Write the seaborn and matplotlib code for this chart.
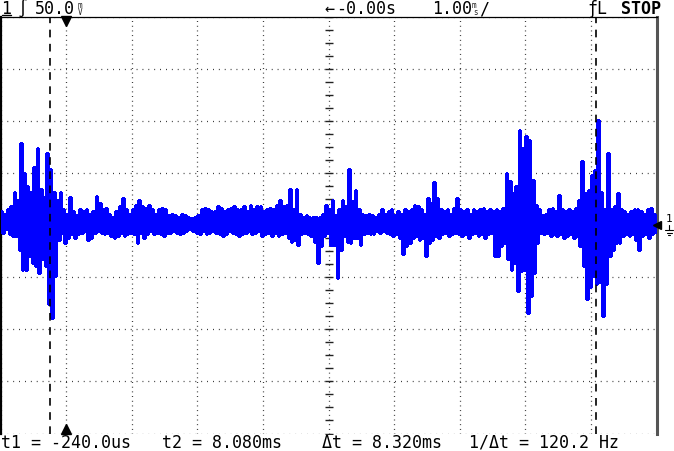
import numpy as np
import pandas as pd
import matplotlib
matplotlib.use("Agg")
import matplotlib.pyplot as plt
from matplotlib.lines import Line2D
import seaborn as sns

# scope settings
mv_per_div = 50.0      # channel 1, mV/div
ms_per_div = 1.0       # timebase, ms/div
t_left = -1.0          # ms at the left edge of the screen
column_ms = 0.05       # width of one peak-detect column

# peak-detect envelope of channel 1, one column per 0.05 ms (mV)
trace_hi = [
    13, 11, 15, 18, 32, 24, 79, 50, 37, 32, 56, 74, 35, 27, 69, 54, 32, 24, 32, 15,
    11, 27, 13, 10, 15, 13, 15, 11, 13, 28, 21, 15, 16, 11, 8, 13, 18, 26, 15, 11,
    15, 19, 24, 18, 16, 19, 15, 11, 15, 16, 15, 10, 11, 10, 8, 11, 10, 8, 7, 8,
    10, 15, 16, 15, 13, 13, 18, 16, 13, 15, 16, 18, 15, 15, 18, 13, 19, 15, 18, 18,
    13, 15, 16, 15, 19, 24, 18, 19, 35, 15, 35, 11, 8, 10, 8, 8, 8, 8, 11, 19,
    15, 24, 10, 15, 24, 18, 54, 23, 34, 15, 11, 10, 11, 10, 8, 11, 15, 11, 13, 15,
    10, 13, 11, 15, 13, 15, 19, 18, 15, 11, 26, 21, 41, 26, 15, 13, 15, 11, 16, 26,
    15, 13, 15, 11, 15, 13, 15, 16, 13, 15, 13, 15, 13, 16, 50, 42, 31, 37, 91, 74,
    85, 82, 43, 19, 15, 10, 11, 15, 16, 13, 29, 15, 13, 15, 13, 16, 24, 61, 31, 34,
    48, 53, 101, 32, 15, 69, 15, 18, 31, 15, 13, 11, 13, 15, 15, 13, 11, 15, 16, 11,
]
trace_lo = [
    -8, -4, -9, -11, -11, -24, -43, -43, -30, -36, -39, -46, -33, -39, -76, -89, -49, -14, -8, -17,
    -12, -9, -12, -9, -8, -6, -14, -12, -8, -6, -8, -9, -8, -11, -12, -11, -8, -11, -9, -8,
    -9, -17, -8, -12, -9, -6, -9, -8, -9, -11, -8, -8, -6, -8, -9, -8, -6, -4, -6, -8,
    -9, -6, -9, -8, -6, -8, -9, -11, -9, -6, -8, -9, -11, -9, -8, -6, -9, -8, -6, -11,
    -9, -8, -11, -8, -11, -9, -8, -12, -16, -14, -19, -9, -8, -9, -11, -16, -36, -20, -11, -8,
    -19, -19, -51, -24, -11, -16, -17, -12, -12, -19, -9, -8, -9, -9, -6, -8, -6, -8, -9, -11,
    -9, -12, -28, -20, -17, -12, -11, -14, -12, -30, -17, -14, -11, -12, -9, -8, -11, -9, -8, -9,
    -11, -9, -12, -9, -8, -11, -9, -12, -9, -8, -30, -30, -20, -17, -33, -43, -36, -63, -44, -43,
    -84, -68, -46, -17, -8, -9, -8, -11, -9, -11, -9, -12, -11, -9, -12, -11, -20, -39, -71, -59,
    -49, -57, -55, -87, -57, -30, -24, -17, -17, -11, -9, -11, -9, -14, -24, -11, -9, -12, -9, -8,
]

cursor_t1 = -0.240   # ms
cursor_t2 = 8.080    # ms
trigger_t = 0.0      # ms

W, H = 674, 452


def px(x, y):
    """pixel position on the screenshot -> figure fraction"""
    return x / W, 1 - y / H


# interleave the envelope into one zig-zag trace like the scope draws it
t_col = t_left + column_ms * np.arange(len(trace_hi))
trace = pd.DataFrame({
    "t": np.column_stack([t_col, t_col + column_ms / 2]).ravel(),
    "mv": np.column_stack([trace_hi, trace_lo]).ravel(),
})

sns.set_style("white")
plt.rcParams["font.family"] = ["DejaVu Sans Mono", "DejaVu Sans"]

fig = plt.figure(figsize=(W / 100, H / 100), dpi=100)
ax = fig.add_axes([0.5 / W, (H - 434.5) / H, 656 / W, 417 / H])

ax.set_xlim(t_left, t_left + 10 * ms_per_div)
ax.set_ylim(-4 * mv_per_div, 4 * mv_per_div)
ax.set_xticks(t_left + ms_per_div * np.arange(11))
ax.set_yticks(mv_per_div * np.arange(-4, 5))
ax.tick_params(length=0, labelbottom=False, labelleft=False)
ax.xaxis.grid(True, color="#222222", lw=0.9, ls=(0, (0.7, 3.05)))
ax.yaxis.grid(True, color="#222222", lw=0.9, ls=(0, (0.7, 4.0)))
ax.set_axisbelow(True)

# graticule ticks on the centre cross
t_mid = t_left + 5 * ms_per_div
yt = mv_per_div * np.arange(-4, 4.01, 0.25)
ax.plot(np.full(len(yt), t_mid), yt, ls="none", marker="_", ms=6, mew=1.0, color="#222222", zorder=1)
xt = t_left + ms_per_div * np.arange(0, 10.01, 0.2)
ax.plot(xt, np.zeros(len(xt)), ls="none", marker="|", ms=6, mew=1.0, color="#222222", zorder=1)

sns.lineplot(data=trace, x="t", y="mv", sort=False, estimator=None, color="#0000ff",
             lw=0.75, drawstyle="steps-post", antialiased=False, ax=ax, zorder=3)
ax.set_xlabel("")
ax.set_ylabel("")

# time cursors
for tc in (cursor_t1, cursor_t2):
    ax.axvline(tc, color="black", lw=1.2, ls=(0, (4.6, 3.9)), zorder=4)

# trigger position markers
ax.plot([trigger_t], [195.5], marker="v", ms=7, color="black", clip_on=False, zorder=5)
ax.plot([trigger_t], [-196], marker="^", ms=7, color="black", clip_on=False, zorder=5)

ax.spines["bottom"].set_visible(False)
ax.spines["left"].set_color("black")
ax.spines["left"].set_linewidth(1.6)
ax.spines["top"].set_color("black")
ax.spines["top"].set_linewidth(0.9)
ax.spines["right"].set_color("#555555")
ax.spines["right"].set_linewidth(2.2)

# channel 1 ground marker on the right
ax.plot([1.0], [0], marker="<", ms=6, color="black", transform=ax.get_yaxis_transform(),
        clip_on=False, zorder=5)
fig.text(*px(666, 222), "1", fontsize=8, color="black", va="baseline")
# ground symbol (no installed font has the glyph): stem and three bars
for (x0, x1, y0, y1) in [(669, 669, 226, 231), (665, 673, 231, 231),
                         (666.5, 671.5, 233.5, 233.5), (668, 670, 236, 236)]:
    fig.add_artist(Line2D([x0 / W, x1 / W], [1 - y0 / H, 1 - y1 / H], color="black", lw=0.8))

# top status line
txt = dict(fontsize=12, color="black", va="baseline")
fig.text(*px(1, 14), "1", **txt)
fig.add_artist(Line2D([2 / W, 11 / W], [1 - 15.5 / H] * 2, color="black", lw=1.0))
fig.text(*px(18, 14), "\u222b", **txt)
fig.text(*px(35, 14), "50.0", **txt)
fig.text(*px(77.5, 7.5), "m", fontsize=5.5, va="baseline")
fig.text(*px(78, 15), "V", fontsize=5.5, va="baseline")
fig.text(*px(324, 14), "\u2190", **txt)
fig.text(*px(336, 14), "-0.00s", **txt)
fig.text(*px(432, 14), "1.00", **txt)
fig.text(*px(472, 7.5), "m", fontsize=5.5, va="baseline")
fig.text(*px(473, 15), "s", fontsize=5.5, va="baseline")
fig.text(*px(479, 14), "/", **txt)
fig.text(*px(587, 14), "\u0192L", **txt)
fig.text(*px(621, 14), "STOP", fontweight="bold", **txt)

# cursor readout
fig.text(*px(1, 448), "t1 = -240.0us", **txt)
fig.text(*px(162, 448), "t2 = 8.080ms", **txt)
fig.text(*px(322, 448), "\u0394t = 8.320ms", **txt)
fig.text(*px(469, 448), "1/\u0394t = 120.2 Hz", **txt)

fig.savefig("out.png", dpi=100, facecolor="white")
